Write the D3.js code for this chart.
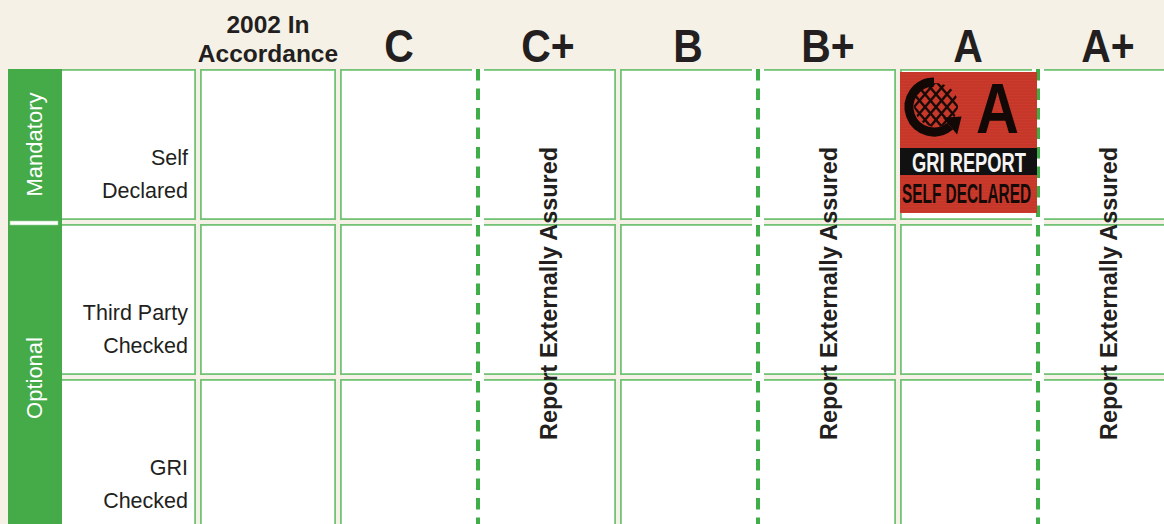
<!DOCTYPE html>
<html><head><meta charset="utf-8">
<script src="https://cdn.jsdelivr.net/npm/d3@7"></script>
<style>html,body{margin:0;padding:0;background:#f5f1e6;} svg{display:block;}</style>
</head><body>
<svg id="chart" width="1164" height="524"></svg>
<script>
// ---- data ----
const columns = ["label", "2002", "C", "C+", "B", "B+", "A", "A+"];
const headerLabels = [[], ["2002 In", "Accordance"], ["C"], ["C+"], ["B"], ["B+"], ["A"], ["A+"]];
const rows = ["Self Declared", "Third Party Checked", "GRI Checked"];
const rowLabels = [["Self", "Declared"], ["Third Party", "Checked"], ["GRI", "Checked"]];
const groupNames = ["Mandatory", "Optional"];
const groupRows = [["Self Declared"], ["Third Party Checked", "GRI Checked"]];
const assuredColumns = ["C+", "B+", "A+"];
const assuredLabel = "Report Externally Assured";
const logoColumn = "A";
const logoRow = "Self Declared";
const logoTexts = ["A", "GRI REPORT", "SELF DECLARED"];

// ---- layout ----
const W = 1164, H = 524;
const svg = d3.select("#chart");
const x = d3.scaleBand().domain(columns).range([60, 60 + 140 * columns.length]);
const y = d3.scaleBand().domain(rows).range([69, 69 + 155 * rows.length]);
const cw = x.bandwidth() - 4, ch = y.bandwidth() - 4;
const FONT = "'Liberation Sans', Arial, Helvetica, sans-serif";
const cream = "#f5f1e6", green = "#45aa48", border = "#74c276", ink = "#231f20";
const headerShift = {"C": -9};

svg.append("rect").attr("width", W).attr("height", H).attr("fill", cream);

// cells
const cells = [];
columns.forEach(c => rows.forEach(r => cells.push({c, r})));
svg.append("g").selectAll("rect").data(cells).join("rect")
  .attr("x", d => x(d.c) + 0.9).attr("y", d => y(d.r) + 0.9)
  .attr("width", cw - 1.8).attr("height", ch - 1.8)
  .attr("fill", "#fff").attr("stroke", border).attr("stroke-width", 1.8);

// header
const hg = svg.append("g").attr("font-family", FONT).attr("font-weight", "bold").attr("fill", ink);
columns.forEach((c, i) => {
  const lines = headerLabels[i];
  const cx = x(c) + cw / 2 + (headerShift[c] || 0);
  if (lines.length === 2) {
    lines.forEach((t, j) => hg.append("text").attr("x", cx).attr("y", 33 + j * 29)
      .attr("text-anchor", "middle").attr("font-size", 24.5).text(t));
  } else if (lines.length === 1) {
    hg.append("text").attr("transform", `translate(${cx},62) scale(0.87,1)`)
      .attr("text-anchor", "middle").attr("font-size", 47).text(lines[0]);
  }
});

// row labels
const rg = svg.append("g").attr("font-family", FONT).attr("fill", ink).attr("font-size", 21.5);
rows.forEach((r, i) => {
  rowLabels[i].forEach((t, j) => rg.append("text")
    .attr("x", x("label") + cw - 8).attr("y", y(r) + 96 + j * 33)
    .attr("text-anchor", "end").text(t));
});

// group band
svg.append("rect").attr("x", 8).attr("y", y(rows[0])).attr("width", 54).attr("height", H - y(rows[0])).attr("fill", green);
groupNames.forEach((g, i) => {
  const rs = groupRows[i];
  const top = y(rs[0]);
  const bot = i === groupNames.length - 1 ? H + 8 : y(rs[rs.length - 1]) + ch;
  const cy = (top + bot) / 2;
  svg.append("text").attr("transform", `translate(42,${cy}) rotate(-90)`)
    .attr("text-anchor", "middle").attr("font-family", FONT).attr("font-size", 22)
    .attr("fill", "#fff").text(g);
  if (i > 0) {
    svg.append("rect").attr("x", 10).attr("y", top - 3).attr("width", 48).attr("height", 4)
      .attr("fill", "#fff").attr("stroke", "#9fd39f").attr("stroke-width", 0.6);
  }
});

// assured separators
assuredColumns.forEach(c => {
  const sx = x(c) - 2;
  svg.append("rect").attr("x", sx - 6).attr("y", y(rows[0])).attr("width", 12).attr("height", H - y(rows[0]))
    .attr("fill", "#fff");
  svg.append("line").attr("x1", sx).attr("x2", sx).attr("y1", y(rows[0])).attr("y2", H)
    .attr("stroke", "#3fae49").attr("stroke-width", 4).attr("stroke-dasharray", "11.5 8");
  const cx = x(c) + cw / 2;
  svg.append("text").attr("transform", `translate(${cx + 8.5},293.5) rotate(-90)`)
    .attr("text-anchor", "middle").attr("font-family", FONT).attr("font-weight", "bold")
    .attr("font-size", 24.5).attr("textLength", 293).attr("lengthAdjust", "spacingAndGlyphs")
    .attr("fill", ink).text(assuredLabel);
});

// logo
const lg = svg.append("g").attr("transform", `translate(${x(logoColumn)},${y(logoRow) + 3})`);
const LW = 137, LH = 141;
const defs = svg.append("defs");
defs.append("clipPath").attr("id", "logoclip").append("rect").attr("width", LW).attr("height", LH);
defs.append("clipPath").attr("id", "globeclip").append("circle").attr("cx", 36).attr("cy", 33).attr("r", 22);
lg.append("rect").attr("width", LW).attr("height", LH).attr("fill", "#cb3a2c");
const stripes = lg.append("g").attr("clip-path", "url(#logoclip)");
d3.range(1, LH, 3).forEach(v => stripes.append("line").attr("x1", 0).attr("x2", LW).attr("y1", v).attr("y2", v)
  .attr("stroke", "#9e2a1f").attr("stroke-opacity", 0.3).attr("stroke-width", 1));
// globe mesh
const mesh = lg.append("g").attr("clip-path", "url(#globeclip)");
d3.range(-60, 130, 11).forEach(v => {
  mesh.append("line").attr("x1", v).attr("y1", 0).attr("x2", v + 60).attr("y2", 70)
    .attr("stroke", "#1a0b08").attr("stroke-width", 2.4);
  mesh.append("line").attr("x1", v + 60).attr("y1", 0).attr("x2", v).attr("y2", 70)
    .attr("stroke", "#1a0b08").attr("stroke-width", 2.4);
});
// G arc with arrow
const gcx = 34, gcy = 35, gr = 25;
const a1 = -90 * Math.PI / 180, a2 = 50 * Math.PI / 180;
const sx0 = gcx + gr * Math.cos(a1), sy0 = gcy + gr * Math.sin(a1);
const ex = gcx + gr * Math.cos(a2), ey = gcy + gr * Math.sin(a2);
lg.append("path").attr("d", `M${sx0},${sy0} A${gr},${gr} 0 1 0 ${ex},${ey}`)
  .attr("fill", "none").attr("stroke", "#120806").attr("stroke-width", 9);
const tx = Math.sin(a2), ty = -Math.cos(a2), px = Math.cos(a2), py = Math.sin(a2);
lg.append("path").attr("d", `M${ex + 15 * tx},${ey + 15 * ty} L${ex + 11 * px},${ey + 11 * py} L${ex - 11 * px},${ey - 11 * py} Z`)
  .attr("fill", "#120806");
// A
lg.append("text").attr("x", 76).attr("y", 61).attr("font-family", FONT).attr("font-weight", "bold")
  .attr("font-size", 70).attr("textLength", 43).attr("lengthAdjust", "spacingAndGlyphs")
  .attr("fill", "#120806").text(logoTexts[0]);
// black band
lg.append("rect").attr("x", 0).attr("y", 76).attr("width", LW).attr("height", 27).attr("fill", "#111");
lg.append("text").attr("x", 12).attr("y", 100).attr("font-family", FONT).attr("font-weight", "bold")
  .attr("font-size", 27).attr("textLength", 114).attr("lengthAdjust", "spacingAndGlyphs")
  .attr("fill", "#f4f4f4").text(logoTexts[1]);
lg.append("text").attr("x", 2).attr("y", 131).attr("font-family", FONT).attr("font-weight", "bold")
  .attr("font-size", 27).attr("textLength", 129).attr("lengthAdjust", "spacingAndGlyphs")
  .attr("fill", "#160a08").text(logoTexts[2]);
</script>
</body></html>
